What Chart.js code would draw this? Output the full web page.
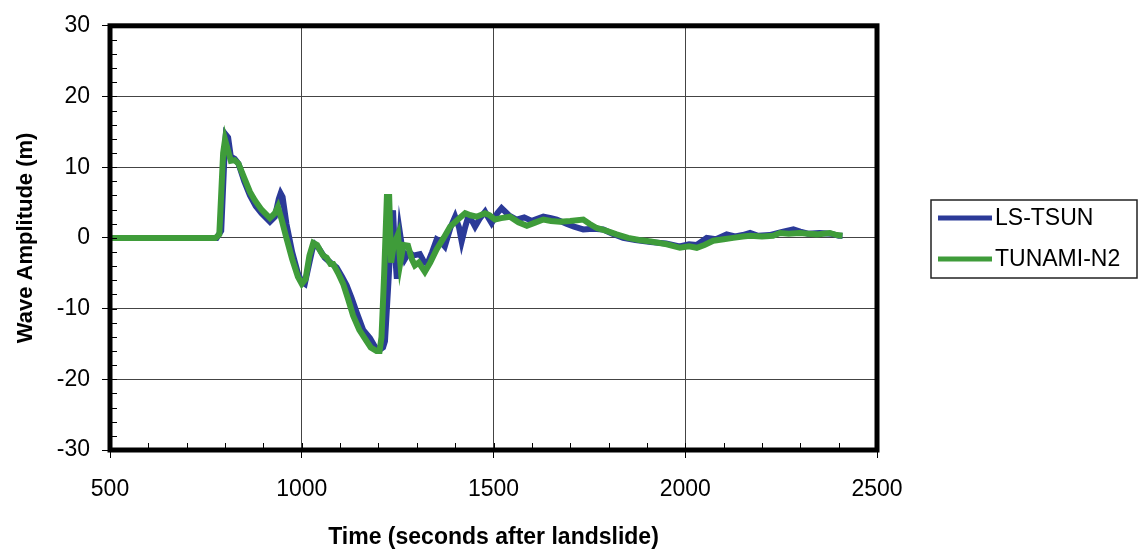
<!DOCTYPE html>
<html>
<head>
<meta charset="utf-8">
<title>Wave Amplitude</title>
<script src="https://cdn.jsdelivr.net/npm/chart.js@4.4.1/dist/chart.umd.min.js"></script>
<style>
  html, body { margin: 0; padding: 0; background: #fff; }
  #wrap { width: 1140px; height: 555px; }
</style>
</head>
<body>
<div id="wrap"><canvas id="waveChart"></canvas></div>
<script>
// --- Data ---
const seriesNames = ['LS-TSUN', 'TUNAMI-N2'];
const seriesColors = ['#2b3a98', '#3f9c3a'];
const xTicks = [500, 1000, 1500, 2000, 2500];
const yTicks = [-30, -20, -10, 0, 10, 20, 30];

// LS-TSUN
const lsTime = [500, 778, 790, 798, 802, 808, 815, 825, 835, 850, 865, 880, 895, 917, 930, 940, 945, 950, 960, 975,
  990, 1000, 1008, 1018, 1028, 1034, 1045, 1060, 1075, 1091, 1105, 1117, 1130, 1143, 1160, 1178, 1192, 1204, 1212, 1217,
  1222, 1226, 1232, 1238, 1243, 1248, 1256, 1262, 1269, 1280, 1290, 1308, 1320, 1329, 1340, 1352, 1362, 1373, 1388, 1400,
  1410, 1417, 1426, 1434, 1445, 1452, 1465, 1478, 1487, 1495, 1510, 1521, 1540, 1560, 1580, 1600, 1630, 1650, 1665, 1690,
  1710, 1734, 1760, 1786, 1810, 1838, 1870, 1910, 1950, 1985, 2010, 2030, 2056, 2080, 2108, 2130, 2150, 2169, 2190, 2220,
  2250, 2282, 2300, 2320, 2350, 2380, 2400, 2410];
const lsAmp = [0, 0, 1, 11, 14.6, 14.2, 11.5, 11.2, 10.5, 8, 6, 4.5, 3.5, 2.3, 3, 5.5, 6.3, 5.8, 2, -2,
  -5, -6.2, -6.5, -4, -1.5, -0.9, -1.5, -2.8, -3.5, -4.2, -5.5, -6.7, -8.5, -10.5, -13, -14.2, -15.5, -15.8, -15.5, -14.6,
  -10, -6.3, -0.2, 3.9, -2, -5.8, 0.7, -1.5, -3, -2, -2.5, -2.3, -3.5, -3.5, -2, -0.2, -0.5, -1.2, 1.5, 3,
  1.5, -0.5, 1.5, 3, 2.3, 1.6, 2.8, 3.7, 2.8, 2.1, 3.5, 4.2, 3.2, 2.6, 2.9, 2.4, 3, 2.8, 2.6, 2,
  1.6, 1.2, 1.3, 1.2, 0.6, 0, -0.3, -0.6, -0.8, -1.2, -0.9, -1, 0, -0.2, 0.5, 0.2, 0.4, 0.7, 0.3, 0.4,
  0.8, 1.2, 0.9, 0.6, 0.7, 0.6, 0.3, 0.3];

// TUNAMI-N2
const tnTime = [500, 775, 785, 795, 800, 807, 815, 825, 835, 850, 865, 878, 895, 917, 930, 938, 948, 960, 975, 990,
  1000, 1010, 1020, 1030, 1040, 1050, 1056, 1065, 1075, 1082, 1095, 1108, 1120, 1134, 1150, 1169, 1180, 1195, 1203, 1208,
  1215, 1222, 1228, 1233, 1240, 1251, 1257, 1265, 1277, 1287, 1295, 1305, 1321, 1335, 1352, 1370, 1387, 1405, 1426, 1440,
  1456, 1478, 1490, 1504, 1520, 1543, 1565, 1587, 1610, 1630, 1650, 1673, 1700, 1734, 1750, 1769, 1795, 1821, 1851, 1880,
  1910, 1952, 1986, 2010, 2030, 2050, 2073, 2100, 2125, 2150, 2169, 2200, 2229, 2247, 2270, 2299, 2320, 2343, 2360, 2377,
  2395, 2410];
const tnAmp = [0, 0, 0.5, 12, 13.9, 12.5, 10.9, 11, 10.5, 8.5, 6.5, 5.3, 4, 2.8, 3.5, 4.4, 2.5, 0, -3, -5.5,
  -6.5, -5.8, -2.5, -0.7, -1, -2, -2.5, -2.8, -3.7, -3.7, -5, -6.5, -8.5, -11, -13, -14.6, -15.5, -16, -16, -14,
  -5, 5.8, 5.8, -3.5, -1, 0.5, -3.5, -1, -1.1, -3, -3.9, -3.5, -4.8, -3.5, -1.6, 0, 1.6, 2.5, 3.5, 3.2,
  3, 3.5, 3.2, 2.6, 2.8, 3, 2.2, 1.7, 2.2, 2.6, 2.4, 2.3, 2.4, 2.6, 2, 1.4, 1, 0.5, 0, -0.3,
  -0.5, -0.9, -1.4, -1.2, -1.4, -1, -0.4, -0.2, 0, 0.2, 0.3, 0.2, 0.3, 0.7, 0.6, 0.7, 0.6, 0.5, 0.6, 0.7,
  0.4, 0.3];

const toPoints = (xs, ys) => xs.map((x, i) => ({ x: x, y: ys[i] }));

// --- Plot frame + minor tick marks, like the spreadsheet original ---
const framePlugin = {
    id: 'frame',
    afterDraw(chart) {
        const { ctx, chartArea: a, scales } = chart;
        ctx.save();
        ctx.strokeStyle = '#000';
        // minor ticks inside the frame
        ctx.lineWidth = 1;
        ctx.beginPath();
        for (let v = -30; v <= 30; v += 2) {
            const py = Math.round(scales.y.getPixelForValue(v)) + 0.5;
            ctx.moveTo(a.left, py);
            ctx.lineTo(a.left + 7, py);
        }
        for (let t = 500; t <= 2500; t += 100) {
            const px = Math.round(scales.x.getPixelForValue(t)) + 0.5;
            ctx.moveTo(px, a.bottom);
            ctx.lineTo(px, a.bottom - 7);
        }
        ctx.stroke();
        ctx.lineWidth = 5;
        ctx.strokeRect(a.left, a.top, a.right - a.left, a.bottom - a.top);
        ctx.restore();
    }
};

// --- Boxed legend on the right ---
const boxLegendPlugin = {
    id: 'boxLegend',
    afterDraw(chart) {
        const ctx = chart.ctx;
        const box = { x: 931, y: 200, w: 206, h: 78 };
        ctx.save();
        ctx.fillStyle = '#fff';
        ctx.fillRect(box.x, box.y, box.w, box.h);
        ctx.strokeStyle = '#222';
        ctx.lineWidth = 1.5;
        ctx.strokeRect(box.x, box.y, box.w, box.h);
        ctx.font = '23px "Liberation Sans", Arial, sans-serif';
        ctx.textBaseline = 'middle';
        ctx.fillStyle = '#000';
        seriesNames.forEach((name, i) => {
            const cy = box.y + 18 + i * 41;
            ctx.strokeStyle = seriesColors[i];
            ctx.lineWidth = 5;
            ctx.beginPath();
            ctx.moveTo(box.x + 7, cy);
            ctx.lineTo(box.x + 61, cy);
            ctx.stroke();
            ctx.fillText(name, box.x + 64, cy + 1);
        });
        ctx.restore();
    }
};

const tickFont = { family: '"Liberation Sans", Arial, sans-serif', size: 23 };
const yTitleFont = { family: '"Liberation Sans", Arial, sans-serif', size: 22, weight: 'bold' };
const xTitleFont = { family: '"Liberation Sans", Arial, sans-serif', size: 23, weight: 'bold' };

new Chart(document.getElementById('waveChart'), {
    type: 'line',
    data: {
        datasets: [
            {
                label: seriesNames[0],
                data: toPoints(lsTime, lsAmp),
                borderColor: seriesColors[0],
                borderWidth: 6,
                pointRadius: 0,
                tension: 0,
                order: 1
            },
            {
                label: seriesNames[1],
                data: toPoints(tnTime, tnAmp),
                borderColor: seriesColors[1],
                borderWidth: 6,
                pointRadius: 0,
                tension: 0,
                order: 0
            }
        ]
    },
    options: {
        responsive: true,
        maintainAspectRatio: false,
        animation: false,
        layout: { padding: { left: 0, top: 20, right: 263, bottom: 0 } },
        plugins: {
            legend: { display: false },
            tooltip: { enabled: false }
        },
        scales: {
            x: {
                type: 'linear',
                min: xTicks[0],
                max: xTicks[xTicks.length - 1],
                afterBuildTicks: (scale) => { scale.ticks = xTicks.map(v => ({ value: v })); },
                afterFit: (scale) => { scale.height = 105; },
                ticks: { font: tickFont, color: '#000', padding: 18, maxRotation: 0, callback: (v) => String(v) },
                grid: { color: '#444', lineWidth: 1, tickLength: 8, tickColor: '#000' },
                border: { display: false },
                title: { display: true, text: 'Time (seconds after landslide)', font: xTitleFont, color: '#000', padding: { top: 0, bottom: 4 } }
            },
            y: {
                min: yTicks[0],
                max: yTicks[yTicks.length - 1],
                afterBuildTicks: (scale) => { scale.ticks = yTicks.map(v => ({ value: v })); },
                afterFit: (scale) => { scale.width = 110; },
                ticks: { font: tickFont, color: '#000', padding: 12, callback: (v) => String(v) },
                grid: { color: '#444', lineWidth: 1, tickLength: 8, tickColor: '#000' },
                border: { display: false },
                title: { display: true, text: 'Wave Amplitude (m)', font: yTitleFont, color: '#000', padding: { top: 13, bottom: 0 } }
            }
        }
    },
    plugins: [framePlugin, boxLegendPlugin]
});
</script>
</body>
</html>
